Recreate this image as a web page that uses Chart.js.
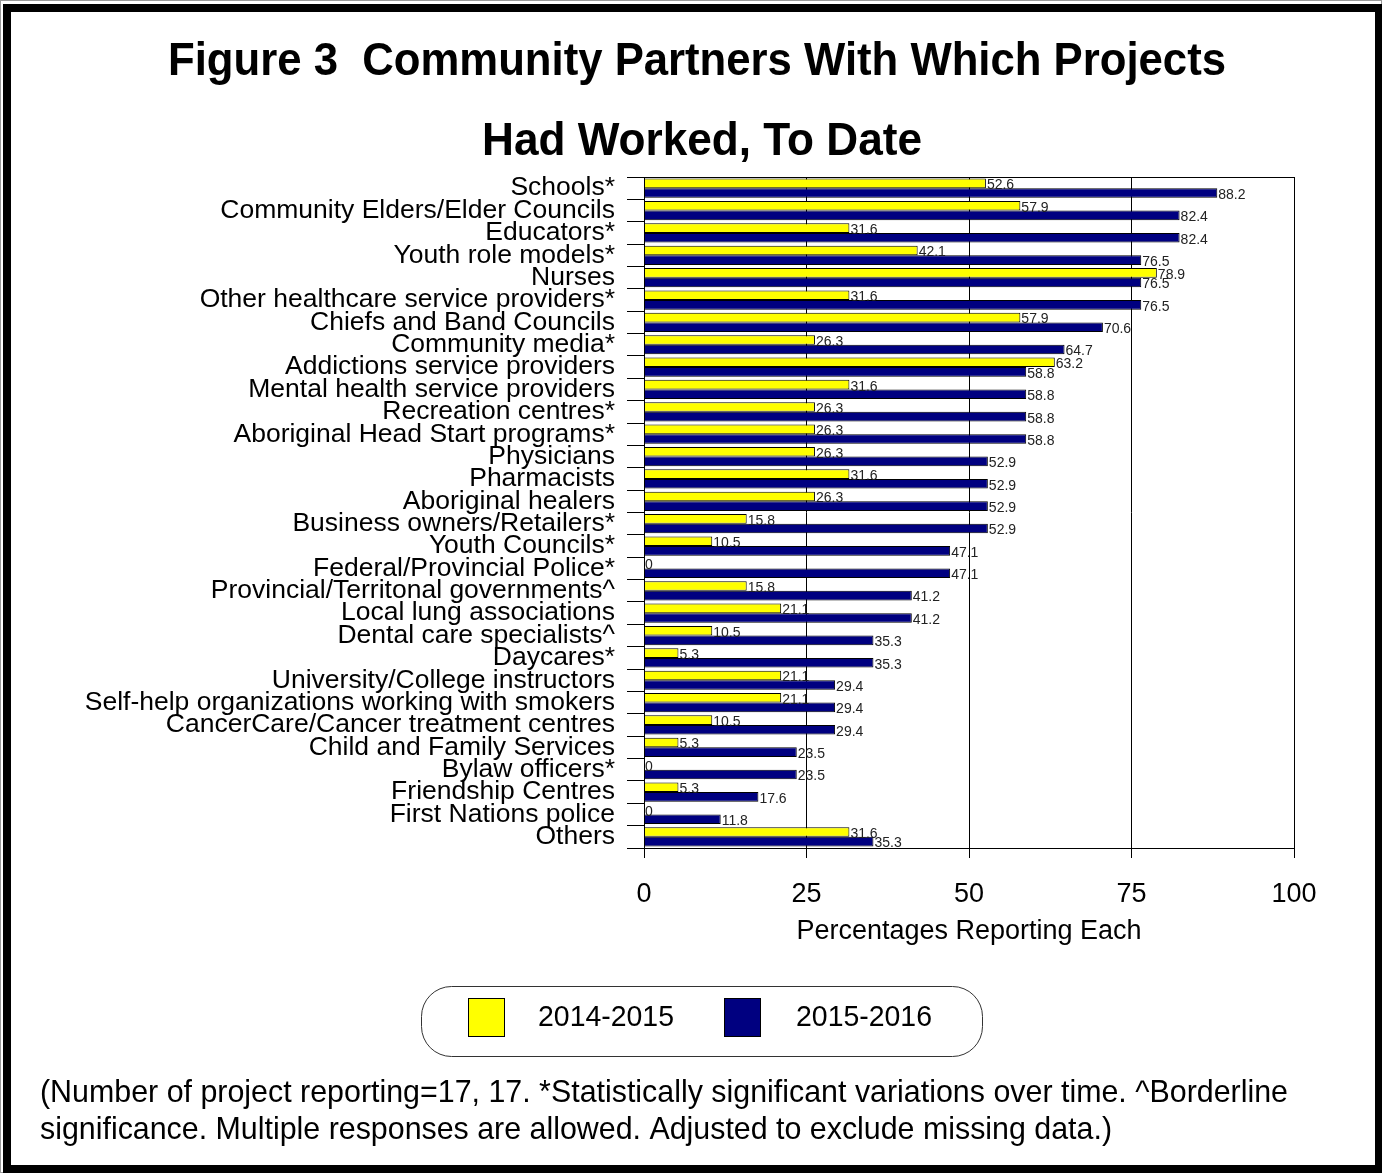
<!DOCTYPE html>
<html>
<head>
<meta charset="utf-8">
<script src="https://cdn.jsdelivr.net/npm/chart.js@4.4.1/dist/chart.umd.min.js"></script>
<style>
  html, body { margin: 0; padding: 0; background: #fff; }
  #wrap { position: relative; width: 1382px; height: 1173px; }
</style>
</head>
<body>
<div id="wrap"><canvas id="partnersChart" width="1382" height="1173"></canvas></div>
<script>
const categories = [
  "Schools*",
  "Community Elders/Elder Councils",
  "Educators*",
  "Youth role models*",
  "Nurses",
  "Other healthcare service providers*",
  "Chiefs and Band Councils",
  "Community media*",
  "Addictions service providers",
  "Mental health service providers",
  "Recreation centres*",
  "Aboriginal Head Start programs*",
  "Physicians",
  "Pharmacists",
  "Aboriginal healers",
  "Business owners/Retailers*",
  "Youth Councils*",
  "Federal/Provincial Police*",
  "Provincial/Territonal governments^",
  "Local lung associations",
  "Dental care specialists^",
  "Daycares*",
  "University/College instructors",
  "Self-help organizations working with smokers",
  "CancerCare/Cancer treatment centres",
  "Child and Family Services",
  "Bylaw officers*",
  "Friendship Centres",
  "First Nations police",
  "Others"
];

const values2014 = [52.6, 57.9, 31.6, 42.1, 78.9, 31.6, 57.9, 26.3, 63.2, 31.6,
  26.3, 26.3, 26.3, 31.6, 26.3, 15.8, 10.5, 0, 15.8, 21.1,
  10.5, 5.3, 21.1, 21.1, 10.5, 5.3, 0, 5.3, 0, 31.6];

const values2015 = [88.2, 82.4, 82.4, 76.5, 76.5, 76.5, 70.6, 64.7, 58.8, 58.8,
  58.8, 58.8, 52.9, 52.9, 52.9, 52.9, 47.1, 47.1, 41.2, 41.2,
  35.3, 35.3, 29.4, 29.4, 29.4, 23.5, 23.5, 17.6, 11.8, 35.3];

const seriesLabels = ["2014-2015", "2015-2016"];
const xTicks = [0, 25, 50, 75, 100];

const titleLines = ["Figure 3  Community Partners With Which Projects", "Had Worked, To Date"];
const footnoteLines = [
  "(Number of project reporting=17, 17. *Statistically significant variations over time. ^Borderline",
  "significance. Multiple responses are allowed. Adjusted to exclude missing data.)"
];

const FONT = "'Liberation Sans', Arial, sans-serif";
const colors = ["#FFFF00", "#000080"];

// frame, title, plot border, bar value labels, legend box and footnote
const decorations = {
  id: "decorations",
  beforeDraw(chart) {
    const ctx = chart.ctx;
    ctx.save();
    ctx.fillStyle = "#fff";
    ctx.fillRect(0, 0, chart.width, chart.height);
    ctx.restore();
  },
  afterDatasetsDraw(chart) {
    const ctx = chart.ctx;
    const area = chart.chartArea;
    ctx.save();

    // plot border (top + right)
    ctx.strokeStyle = "#000";
    ctx.lineWidth = 1;
    ctx.strokeRect(area.left + 0.5, area.top + 0.5, area.right - area.left, area.bottom - area.top);

    // value labels
    ctx.font = "14px " + FONT;
    ctx.fillStyle = "#222";
    ctx.textAlign = "left";
    ctx.textBaseline = "middle";
    chart.data.datasets.forEach((ds, i) => {
      const meta = chart.getDatasetMeta(i);
      meta.data.forEach((bar, j) => {
        ctx.fillText(String(ds.data[j]), bar.x + 1, bar.y + 2, 30);
      });
    });

    // title
    ctx.fillStyle = "#000";
    ctx.textAlign = "center";
    ctx.textBaseline = "middle";
    ctx.font = "bold 46px " + FONT;
    ctx.fillText(titleLines[0], 697, 62, 1058);
    ctx.fillText(titleLines[1], 702, 142, 440);

    // legend
    ctx.lineWidth = 1;
    ctx.strokeStyle = "#333";
    ctx.beginPath();
    ctx.roundRect(421.5, 986.5, 561, 70, 30);
    ctx.stroke();
    const boxes = [{x: 468, tx: 538}, {x: 724, tx: 796}];
    ctx.font = "29px " + FONT;
    ctx.textAlign = "left";
    seriesLabels.forEach((lab, i) => {
      ctx.fillStyle = colors[i];
      ctx.fillRect(boxes[i].x, 998, 36, 38);
      ctx.strokeStyle = "#000";
      ctx.strokeRect(boxes[i].x + 0.5, 998.5, 36, 38);
      ctx.fillStyle = "#000";
      ctx.fillText(lab, boxes[i].tx, 1018, 136);
    });

    // footnote
    ctx.font = "30.5px " + FONT;
    ctx.fillText(footnoteLines[0], 40, 1094, 1248);
    ctx.fillText(footnoteLines[1], 40, 1131, 1072);

    // outer frame
    ctx.strokeStyle = "#999";
    ctx.lineWidth = 1;
    ctx.strokeRect(0.5, 0.5, chart.width - 1, chart.height - 1);
    ctx.strokeStyle = "#000";
    ctx.lineWidth = 8;
    ctx.strokeRect(7, 8, chart.width - 10, chart.height - 12);
    ctx.restore();
  }
};

new Chart(document.getElementById("partnersChart"), {
  type: "bar",
  data: {
    labels: categories,
    datasets: [
      {
        label: seriesLabels[0],
        data: values2014,
        backgroundColor: colors[0],
        borderColor: "#000",
        borderWidth: 1,
        categoryPercentage: 0.86,
        barPercentage: 1.0,
      },
      {
        label: seriesLabels[1],
        data: values2015,
        backgroundColor: colors[1],
        borderColor: "#000",
        borderWidth: 1,
        categoryPercentage: 0.86,
        barPercentage: 1.0,
      },
    ],
  },
  options: {
    indexAxis: "y",
    responsive: false,
    animation: false,
    layout: {
      padding: { left: 0, right: 88, top: 177, bottom: 225 },
    },
    plugins: {
      legend: { display: false },
      title: { display: false },
      tooltip: { enabled: false },
    },
    scales: {
      x: {
        min: 0,
        max: 100,
        afterBuildTicks(scale) {
          scale.ticks = xTicks.map((v) => ({ value: v }));
        },
        afterFit(scale) {
          scale.height = 100;
        },
        grid: {
          color: "#000",
          lineWidth: 1,
          tickLength: 10,
          drawOnChartArea: true,
        },
        border: { color: "#000", width: 1 },
        ticks: {
          color: "#000",
          font: { family: FONT, size: 27 },
          padding: 20,
        },
        title: {
          display: true,
          text: "Percentages Reporting Each",
          color: "#000",
          font: { family: FONT, size: 27 },
          padding: { top: 0, bottom: 0 },
        },
      },
      y: {
        afterFit(scale) {
          scale.width = 644;
        },
        grid: {
          color: "#000",
          drawOnChartArea: false,
          tickLength: 17,
        },
        border: { color: "#000", width: 1 },
        ticks: {
          color: "#000",
          autoSkip: false,
          font: { family: FONT, size: 26.5 },
          padding: 12,
        },
      },
    },
  },
  plugins: [decorations],
});
</script>
</body>
</html>
